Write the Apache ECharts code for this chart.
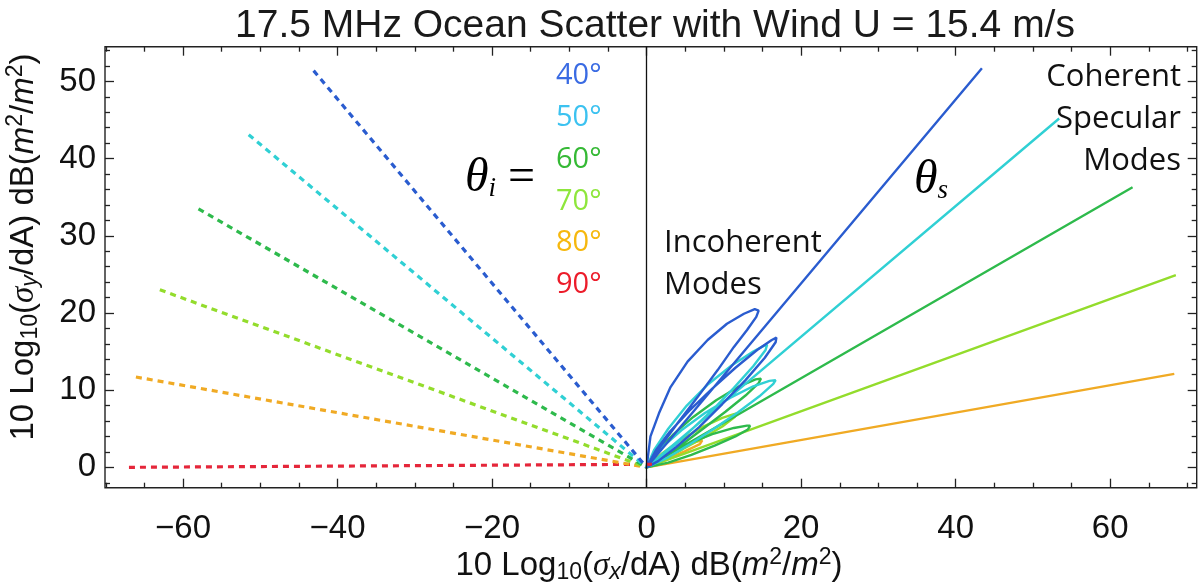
<!DOCTYPE html>
<html><head><meta charset="utf-8">
<script src="https://cdn.jsdelivr.net/npm/echarts@6/dist/echarts.min.js"></script>
<style>html,body{margin:0;padding:0;background:#fff}#main{width:1203px;height:585px}</style>
</head><body><div id="main"></div>
<script>
const titleText = '17.5 MHz Ocean Scatter with Wind U = 15.4 m/s';
const angleLabels = ['40°', '50°', '60°', '70°', '80°', '90°'];
const labelColors = ['#3a6be3', '#3cc2f0', '#35b935', '#8ee63c', '#f6b80e', '#ec1c2a'];
const lineColors = ['#2a5ccf', '#30d0d4', '#2eba4c', '#93dc2c', '#f0aa24', '#e5263a'];

const xTickLabels = [-60, -40, -20, 0, 20, 40, 60];
const xMinorTicks = [-70, -65, -55, -50, -45, -35, -30, -25, -15, -10, -5, 5, 10, 15, 25, 30, 35, 45, 50, 55, 65, 70];
const yTickLabels = [0, 10, 20, 30, 40, 50];
const yMinorTicks = [-2, 2, 4, 6, 8, 12, 14, 16, 18, 22, 24, 26, 28, 32, 34, 36, 38, 42, 44, 46, 48, 52, 54];

// incident directions (dashed), from far end to origin
const inc40 = [[-43.1, 51.4], [0, 0]];
const inc50 = [[-51.5, 43.1], [0, 0]];
const inc60 = [[-58.0, 33.5], [0, 0]];
const inc70 = [[-63.0, 23.0], [0, 0]];
const inc80 = [[-66.1, 11.7], [0, 0]];
const inc90 = [[-67.0, 0], [1.2, 0.4]];

// incoherent lobes (closed loops from origin)
const lobe40a = [[0,0],[0.5,4.0],[1.6,7.0],[3.1,10.4],[5.3,13.7],[7.9,16.5],[10.4,18.6],[12.6,19.9],[14.0,20.5],[14.5,20.3],[14.2,19.5],[13.0,17.8],[11.3,15.6],[9.2,12.6],[6.6,9.1],[4.0,5.7],[1.8,2.7],[0,0]];
const lobe40b = [[0,0],[1.2,2.2],[3.0,4.6],[5.5,7.3],[8.5,10.2],[11.5,12.9],[14.3,15.2],[16.2,16.5],[16.8,16.8],[16.7,16.2],[15.3,14.2],[12.8,11.3],[9.8,8.2],[6.8,5.2],[3.8,2.6],[1.5,0.8],[0,0]];
const lobe50a = [[0,0],[1.0,2.3],[2.8,5.0],[5.2,8.0],[8.0,10.8],[11.0,13.2],[13.8,15.0],[15.3,15.8],[15.6,15.9],[15.4,15.2],[13.8,13.1],[11.3,10.3],[8.4,7.3],[5.5,4.6],[3.0,2.3],[1.0,0.7],[0,0]];
const lobe50b = [[0,0],[2.0,2.6],[4.5,4.8],[7.5,7.0],[10.8,9.0],[13.8,10.5],[15.9,11.2],[16.7,11.3],[16.4,10.8],[14.6,9.2],[11.8,7.1],[8.7,5.0],[5.6,3.0],[2.8,1.3],[0,0]];
const lobe60a = [[0,0],[1.5,2.2],[3.5,4.3],[6.0,6.5],[9.0,8.7],[12.0,10.5],[14.1,11.4],[14.8,11.5],[14.5,10.9],[12.8,9.3],[10.2,7.2],[7.3,5.0],[4.5,2.9],[2.0,1.1],[0,0]];
const lobe60b = [[0,0],[2.5,1.6],[5.5,3.1],[8.5,4.3],[11.3,5.1],[13.0,5.4],[13.4,5.4],[13.1,4.9],[11.5,4.0],[8.8,2.8],[5.8,1.6],[2.8,0.6],[0,0]];
const lobe70a = [[0,0],[2.0,1.8],[4.5,3.6],[7.2,5.2],[9.8,6.4],[11.3,6.9],[11.7,7.0],[11.4,6.5],[9.8,5.3],[7.3,3.8],[4.6,2.3],[2.0,0.9],[0,0]];
const lobe80a = [[0,0],[2.0,1.3],[4.3,2.5],[6.4,3.3],[7.2,3.5],[6.9,3.0],[5.0,2.1],[2.8,1.1],[0,0]];

// coherent specular spikes: far end points
const spec40 = [[43.4, 51.7]];
const spec50 = [[53.4, 45.2]];
const spec60 = [[62.9, 36.3]];
const spec70 = [[68.5, 24.9]];
const spec80 = [[68.3, 12.1]];

const XMIN = -70.1, XMAX = 71.2, YMIN = -2.64, YMAX = 54.5;

const incident = [inc40, inc50, inc60, inc70, inc80, inc90];
const solid = [
  [...lobe40a, ...lobe40b, ...spec40],
  [...lobe50a, ...lobe50b, ...spec50],
  [...lobe60a, ...lobe60b, ...spec60],
  [...lobe70a, ...spec70],
  [...lobe80a, ...spec80]
];

const SANS = 'Liberation Sans, Arial, sans-serif';
const CAL = '"Open Sans", Lato, sans-serif';
const SERIF = 'Liberation Serif, Times New Roman, serif';

function mkX(pos, vals, len, labels) {
  return {
    type: 'value', min: XMIN, max: XMAX, position: pos,
    axisLine: { show: false, onZero: false }, splitLine: { show: false },
    axisTick: { show: true, inside: true, length: len, customValues: vals, lineStyle: { color: '#222', width: 1.3 } },
    axisLabel: labels ? {
      show: true, customValues: xTickLabels, margin: 25, fontSize: 33, fontFamily: SANS, color: '#111',
      formatter: v => (v < 0 ? '\u2212' + Math.abs(v) : String(v))
    } : { show: false }
  };
}
function mkY(pos, vals, len, labels) {
  return {
    type: 'value', min: YMIN, max: YMAX, position: pos,
    axisLine: { show: false, onZero: false }, splitLine: { show: false },
    axisTick: { show: true, inside: true, length: len, customValues: vals, lineStyle: { color: '#222', width: 1.3 } },
    axisLabel: labels ? {
      show: true, customValues: yTickLabels, margin: 9, fontSize: 33, fontFamily: SANS, color: '#111'
    } : { show: false }
  };
}

const series = [];
for (let i = solid.length - 1; i >= 0; i--) {
  series.push({
    type: 'line', data: solid[i], showSymbol: false, symbol: 'none', animation: false, z: 3,
    lineStyle: { color: lineColors[i], width: 2.4 }
  });
}
for (let i = incident.length - 1; i >= 0; i--) {
  series.push({
    type: 'line', data: incident[i], showSymbol: false, symbol: 'none', animation: false, z: 4,
    lineStyle: { color: lineColors[i], width: 3.2, type: [6, 5], cap: 'butt' }
  });
}
series[0].markLine = {
  silent: true, symbol: 'none', animation: false,
  lineStyle: { color: '#111', width: 1.3, type: 'solid' },
  label: { show: false }, data: [{ xAxis: 0 }]
};

const graphics = [];
angleLabels.forEach((t, i) => {
  graphics.push({
    type: 'text', x: 556, y: 76 + i * 41.8,
    style: { text: t, fill: labelColors[i], font: '29px ' + CAL, align: 'left', verticalAlign: 'middle' }
  });
});
graphics.push({
  type: 'text', x: 465, y: 178,
  style: {
    text: '{t|θ}{s|i}{e| =}', align: 'left', verticalAlign: 'middle',
    rich: {
      t: { fontSize: 48, fontFamily: SERIF, fontStyle: 'italic', fill: '#000' },
      s: { fontSize: 27, fontFamily: SERIF, fontStyle: 'italic', fill: '#000', padding: [22, 0, 0, 0] },
      e: { fontSize: 48, fontFamily: SERIF, fill: '#000' }
    }
  }
});
graphics.push({
  type: 'text', x: 914, y: 180,
  style: {
    text: '{t|θ}{s|s}', align: 'left', verticalAlign: 'middle',
    rich: {
      t: { fontSize: 48, fontFamily: SERIF, fontStyle: 'italic', fill: '#000' },
      s: { fontSize: 27, fontFamily: SERIF, fontStyle: 'italic', fill: '#000', padding: [22, 0, 0, 0] }
    }
  }
});
[['Incoherent', 664, 243], ['Modes', 664, 285]].forEach(a => graphics.push({
  type: 'text', x: a[1], y: a[2], style: { text: a[0], fill: '#111', font: '31px ' + CAL, align: 'left', verticalAlign: 'middle' }
}));
[['Coherent', 1181, 77], ['Specular', 1181, 119], ['Modes', 1181, 161]].forEach(a => graphics.push({
  type: 'text', x: a[1], y: a[2], style: { text: a[0], fill: '#111', font: '31px ' + CAL, align: 'right', verticalAlign: 'middle' }
}));
const axRich = {
  a: { fontSize: 33, fontFamily: SANS, fill: '#111' },
  s: { fontSize: 23, fontFamily: SANS, fill: '#111', padding: [14, 0, 0, 0] },
  g: { fontSize: 33, fontFamily: SERIF, fontStyle: 'italic', fill: '#111' },
  gs: { fontSize: 23, fontFamily: SANS, fontStyle: 'italic', fill: '#111', padding: [14, 0, 0, 0] },
  i: { fontSize: 33, fontFamily: SANS, fontStyle: 'italic', fill: '#111' },
  p: { fontSize: 23, fontFamily: SANS, fill: '#111', padding: [0, 0, 16, 0] }
};
graphics.push({
  type: 'text', x: 649, y: 566,
  style: { text: '{a|10 Log}{s|10}{a|(}{g|σ}{gs|x}{a|/dA) dB(}{i|m}{p|2}{a|/}{i|m}{p|2}{a|)}', align: 'center', verticalAlign: 'middle', rich: axRich }
});
graphics.push({
  type: 'text', x: 24, y: 247, rotation: Math.PI / 2,
  style: { text: '{a|10 Log}{s|10}{a|(}{g|σ}{gs|y}{a|/dA) dB(}{i|m}{p|2}{a|/}{i|m}{p|2}{a|)}', align: 'center', verticalAlign: 'middle', rich: axRich }
});

const chart = echarts.init(document.getElementById('main'), null, { renderer: 'canvas' });
chart.setOption({
  animation: false,
  backgroundColor: '#fff',
  title: {
    text: titleText, left: 650, top: 2, textAlign: 'center',
    textStyle: { fontSize: 39, fontWeight: 'normal', fontFamily: SANS, color: '#1a1a1a' }
  },
  grid: { left: 105, right: 6.3, top: 46.7, bottom: 97.3, show: true, borderColor: '#222', borderWidth: 1.4, backgroundColor: 'transparent' },
  xAxis: [
    mkX('bottom', xTickLabels, 9, true),
    mkX('bottom', xMinorTicks, 5, false),
    mkX('top', xTickLabels, 9, false),
    mkX('top', xMinorTicks, 5, false)
  ],
  yAxis: [
    mkY('left', yTickLabels, 9, true),
    mkY('left', yMinorTicks, 5, false),
    mkY('right', yTickLabels, 9, false),
    mkY('right', yMinorTicks, 5, false)
  ],
  series: series,
  graphic: graphics
});
</script>
</body></html>
